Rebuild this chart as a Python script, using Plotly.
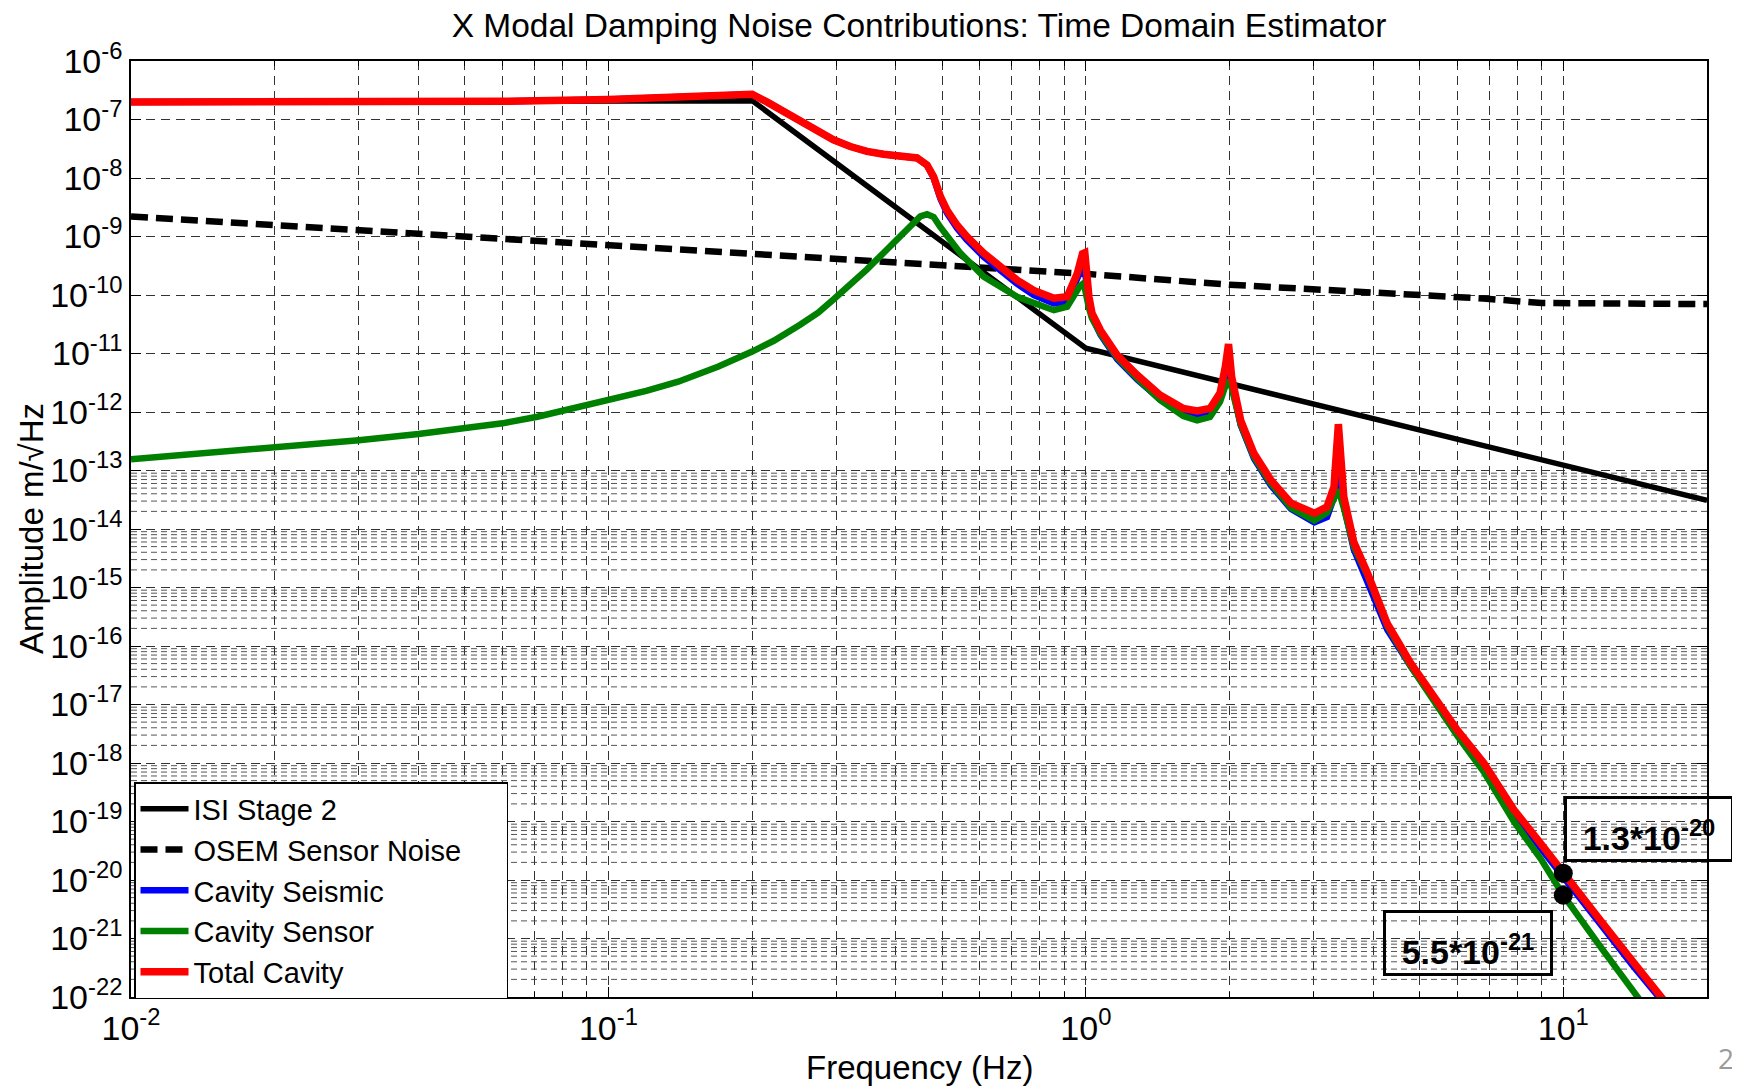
import plotly.graph_objects as go

# ---------------- data ----------------
isi_freq = [0.01, 0.2, 1.0, 20.0]
isi_amp = [2.0e-7, 2.1e-7, 1.23e-11, 3.1e-14]

osem_freq = [0.01, 0.02, 0.03, 0.04, 0.06, 0.1, 0.156, 0.2, 0.3, 0.37, 0.6, 1.0,
             2.0, 3.8, 6.8, 9.0, 20.0]
osem_amp = [2.2e-9, 1.57e-9, 1.26e-9, 1.1e-9, 9.3e-10, 6.9e-10, 5.5e-10, 5.0e-10,
            4.1e-10, 3.7e-10, 3.0e-10, 2.3e-10, 1.5e-10, 1.15e-10, 8.7e-11,
            7.3e-11, 7.0e-11]

seis_freq = [0.01, 0.03, 0.06, 0.1, 0.15, 0.2, 0.2147, 0.2327, 0.2523, 0.2735, 0.296,
             0.321, 0.348, 0.377, 0.409, 0.443, 0.465, 0.48, 0.496, 0.512, 0.537,
             0.563, 0.611, 0.662, 0.718, 0.778, 0.817, 0.857, 0.914, 0.959, 0.99,
             1.015, 1.03, 1.073, 1.163, 1.28, 1.43, 1.6, 1.71, 1.82, 1.91, 1.96,
             1.99, 2.02, 2.11, 2.25, 2.44, 2.69, 3.01, 3.2, 3.31, 3.38, 3.47, 3.64,
             3.89, 4.28, 4.79, 5.36, 6.0, 6.82, 7.88, 8.97, 10.0, 12.0, 14.0, 17.0]
seis_amp = [2.0e-7, 2.0e-7, 2.05e-7, 2.2e-7, 2.45e-7, 2.7e-7, 2.0e-7, 1.36e-7, 9.2e-8,
            6.3e-8, 4.5e-8, 3.45e-8, 2.85e-8, 2.55e-8, 2.38e-8, 2.2e-8, 1.65e-8,
            1.0e-8, 4.4e-9, 2.5e-9, 1.4e-9, 8.8e-10, 4.5e-10, 2.6e-10, 1.55e-10,
            1.0e-10, 8.3e-11, 7.2e-11, 7.6e-11, 1.8e-10, 3.5e-10, 8.0e-11, 4.2e-11,
            2.1e-11, 8.0e-12, 3.6e-12, 1.65e-12, 9.5e-13, 8.5e-13, 9.5e-13, 1.7e-12,
            3.5e-12, 5.2e-12, 3.0e-12, 6.0e-13, 1.6e-13, 5.6e-14, 2.2e-14, 1.3e-14,
            1.6e-14, 3.5e-14, 9.0e-14, 2.5e-14, 4.5e-15, 1.2e-15, 1.9e-16, 4.5e-17,
            1.25e-17, 3.3e-18, 8.6e-19, 1.35e-19, 3.5e-20, 1.1e-20, 1.7e-21, 3.4e-22,
            5.0e-23]

sens_freq = [0.01, 0.02, 0.03, 0.04, 0.06, 0.071, 0.1, 0.12, 0.14, 0.17, 0.2, 0.222,
             0.252, 0.275, 0.296, 0.32, 0.348, 0.38, 0.409, 0.43, 0.45, 0.465, 0.48,
             0.495, 0.546, 0.611, 0.718, 0.857, 0.914, 0.97, 0.99, 1.015, 1.03, 1.073,
             1.163, 1.28, 1.43, 1.6, 1.71, 1.82, 1.91, 1.96, 1.99, 2.02, 2.11, 2.25,
             2.44, 2.69, 3.01, 3.2, 3.31, 3.38, 3.47, 3.64, 3.89, 4.28, 4.79, 5.36,
             6.0, 6.82, 7.88, 8.97, 10.0, 12.0, 14.4, 17.0]
sens_amp = [1.55e-13, 2.4e-13, 3.3e-13, 4.2e-13, 6.4e-13, 8.3e-13, 1.6e-12, 2.3e-12,
            3.3e-12, 6.0e-12, 1.08e-11, 1.65e-11, 3.1e-11, 5.0e-11, 8.4e-11, 1.45e-10,
            2.75e-10, 5.6e-10, 1.05e-9, 1.6e-9, 2.2e-9, 2.4e-9, 2.15e-9, 1.47e-9,
            5.2e-10, 2.06e-10, 9.3e-11, 5.5e-11, 6.3e-11, 1.4e-10, 1.6e-10, 6.0e-11,
            4.0e-11, 2.2e-11, 8.5e-12, 3.8e-12, 1.6e-12, 8.5e-13, 7.2e-13, 8.2e-13,
            1.5e-12, 2.8e-12, 3.5e-12, 2.6e-12, 6.2e-13, 1.7e-13, 6.0e-14, 2.3e-14,
            1.4e-14, 1.9e-14, 3.6e-14, 4.7e-14, 2.3e-14, 5.0e-15, 1.6e-15, 2.2e-16,
            4.5e-17, 1.15e-17, 2.9e-18, 7.0e-19, 1.0e-19, 2.3e-20, 5.5e-21, 7.0e-22,
            1.0e-22, 1.5e-23]

total_freq = [0.01, 0.03, 0.06, 0.1, 0.15, 0.2, 0.2147, 0.2327, 0.2523, 0.2735, 0.296,
              0.321, 0.348, 0.377, 0.409, 0.443, 0.465, 0.48, 0.496, 0.512, 0.537,
              0.563, 0.611, 0.662, 0.718, 0.778, 0.817, 0.857, 0.914, 0.959, 0.984,
              0.995, 1.015, 1.03, 1.073, 1.163, 1.28, 1.43, 1.6, 1.71, 1.82, 1.91,
              1.96, 1.99, 2.02, 2.11, 2.25, 2.44, 2.69, 3.01, 3.2, 3.31, 3.38, 3.47,
              3.64, 3.89, 4.28, 4.79, 5.36, 6.0, 6.82, 7.88, 8.97, 10.0, 12.0, 14.0,
              17.0]
total_amp = [2.0e-7, 2.0e-7, 2.05e-7, 2.2e-7, 2.45e-7, 2.7e-7, 2.0e-7, 1.36e-7, 9.2e-8,
             6.3e-8, 4.5e-8, 3.45e-8, 2.85e-8, 2.55e-8, 2.38e-8, 2.2e-8, 1.67e-8,
             1.05e-8, 4.8e-9, 2.8e-9, 1.57e-9, 1.0e-9, 5.2e-10, 3.05e-10, 1.8e-10,
             1.2e-10, 1.0e-10, 8.8e-11, 9.3e-11, 2.3e-10, 5.1e-10, 5.3e-10, 9.3e-11,
             4.9e-11, 2.5e-11, 9.4e-12, 4.3e-12, 1.95e-12, 1.15e-12, 1.04e-12,
             1.15e-12, 2.1e-12, 6.0e-12, 1.45e-11, 4.0e-12, 7.2e-13, 1.95e-13, 6.9e-14,
             2.76e-14, 1.86e-14, 2.4e-14, 5.3e-14, 6.2e-13, 3.5e-14, 6.0e-15, 1.75e-15,
             2.4e-16, 5.1e-17, 1.36e-17, 3.66e-18, 9.9e-19, 1.58e-19, 4.2e-20, 1.3e-20,
             1.97e-21, 4.0e-22, 5.5e-23]

mark_freq = [10.0, 10.0]
mark_amp = [1.3e-20, 5.5e-21]
mark_labels = ["1.3*10<sup>-20</sup>", "5.5*10<sup>-21</sup>"]

series_names = ["ISI Stage 2", "OSEM Sensor Noise", "Cavity Seismic", "Cavity Sensor",
                "Total Cavity"]

x_tick_exps = [-2, -1, 0, 1]
y_tick_exps = list(range(-22, -5))
y_minor_exps = list(range(-22, -13))   # decades showing minor grid in the reference

# ---------------- figure ----------------
FONT = "Liberation Sans, Arial, Helvetica, sans-serif"
OFF = 8                      # page body margin of the html page
W, H = 1740 - OFF, 1088 - OFF
ML, MR, MT, MB = 131 - OFF, 33, 61 - OFF, 91
PW, PH = 1576.0, 936.0       # plot area size in px
NBSP = "\u00a0"

fig = go.Figure()
fig.add_trace(go.Scatter(x=isi_freq, y=isi_amp, mode="lines", name=series_names[0],
                         line=dict(color="black", width=5.5)))
fig.add_trace(go.Scatter(x=osem_freq, y=osem_amp, mode="lines",
                         name=series_names[1] + NBSP * 5,   # widen legend box like reference
                         line=dict(color="black", width=6.5, dash="17px,8px")))
fig.add_trace(go.Scatter(x=seis_freq, y=seis_amp, mode="lines", name=series_names[2],
                         line=dict(color="#0000ff", width=6.5)))
fig.add_trace(go.Scatter(x=sens_freq, y=sens_amp, mode="lines", name=series_names[3],
                         line=dict(color="#008000", width=6.5)))
fig.add_trace(go.Scatter(x=total_freq, y=total_amp, mode="lines", name=series_names[4],
                         line=dict(color="#ff0000", width=7.5)))
fig.add_trace(go.Scatter(x=mark_freq, y=mark_amp, mode="markers", showlegend=False,
                         marker=dict(color="black", size=19), cliponaxis=False))

# minor y gridlines (only present in the lower decades of the reference)
shapes = []
for e in y_minor_exps:
    for m in range(2, 10):
        v = m * 10.0 ** e
        shapes.append(dict(type="line", xref="paper", x0=0, x1=1, yref="y", y0=v, y1=v,
                           layer="below", line=dict(color="#555555", width=1, dash="6px,4px")))

x_minor = [m * 10.0 ** e for e in range(-2, 2) for m in range(2, 10) if m * 10.0 ** e <= 20]

grid_dash = "9px,6px"
fig.update_xaxes(
    type="log", range=[-2, 1.30103],
    tickmode="array",
    tickvals=[10.0 ** e for e in x_tick_exps],
    ticktext=["10<sup>%d</sup>" % e for e in x_tick_exps],
    tickfont=dict(family=FONT, size=34, color="black"),
    ticks="inside", ticklen=10, tickcolor="black", tickwidth=1,
    showline=True, linecolor="black", linewidth=1.5, mirror="allticks",
    showgrid=True, gridcolor="#333333", gridwidth=1, griddash=grid_dash,
    minor=dict(tickmode="array", tickvals=x_minor, ticks="inside", ticklen=5,
               tickcolor="black", showgrid=True, gridcolor="#333333",
               gridwidth=1, griddash=grid_dash),
    zeroline=False,
)
fig.update_yaxes(
    type="log", range=[-22, -6],
    tickmode="array",
    tickvals=[10.0 ** e for e in y_tick_exps],
    ticktext=["10<sup>%d</sup>" % e for e in y_tick_exps],
    tickfont=dict(family=FONT, size=34, color="black"),
    ticks="inside", ticklen=10, tickcolor="black", tickwidth=1,
    showline=True, linecolor="black", linewidth=1.5, mirror="allticks",
    showgrid=True, gridcolor="#333333", gridwidth=1, griddash=grid_dash,
    zeroline=False,
)

annotations = [
    # axis titles
    dict(xref="paper", yref="paper", x=(31 - 131) / PW, y=0.5, xanchor="center",
         yanchor="middle", textangle=-90, text="Amplitude m/√Hz", showarrow=False,
         font=dict(family=FONT, size=33, color="black")),
    dict(xref="paper", yref="paper", x=0.5, y=(997 - 1067) / PH, xanchor="center",
         yanchor="middle", text="Frequency (Hz)", showarrow=False,
         font=dict(family=FONT, size=33, color="black")),
    # value boxes
    dict(xref="paper", yref="paper", x=(1649 - 131) / PW, y=(997 - 829) / PH,
         xanchor="center", yanchor="middle",
         text="<b>%s</b>" % mark_labels[0], showarrow=False, width=160, height=56,
         font=dict(family=FONT, size=34, color="black"), valign="bottom",
         bordercolor="black", borderwidth=3, borderpad=2, bgcolor="rgba(255,255,255,0)"),
    dict(xref="paper", yref="paper", x=(1468 - 131) / PW, y=(997 - 943) / PH,
         xanchor="center", yanchor="middle",
         text="<b>%s</b>" % mark_labels[1], showarrow=False, width=160, height=56,
         font=dict(family=FONT, size=34, color="black"), valign="bottom",
         bordercolor="black", borderwidth=3, borderpad=2, bgcolor="rgba(255,255,255,0)"),
    # page number
    dict(xref="paper", yref="paper", x=(1726 - 131) / PW, y=(997 - 1058) / PH,
         xanchor="center", yanchor="middle", text="2", showarrow=False,
         font=dict(family="Open Sans, sans-serif", size=28, color="#9a9a9a")),
]

fig.update_layout(
    width=W, height=H,
    margin=dict(l=ML, r=MR, t=MT, b=MB),
    paper_bgcolor="white", plot_bgcolor="white",
    font=dict(family=FONT, color="black"),
    title=dict(text="X Modal Damping Noise Contributions: Time Domain Estimator",
               x=0.5, xref="paper", xanchor="center", y=1 - (25 - OFF) / H,
               yanchor="middle", font=dict(family=FONT, size=33.5, color="black")),
    legend=dict(x=(134 - 131) / PW, y=(997 - 782) / PH, xanchor="left", yanchor="top",
                bgcolor="white", bordercolor="black", borderwidth=1.5,
                font=dict(family=FONT, size=29, color="black"),
                itemwidth=48, tracegroupgap=0),
    shapes=shapes,
    annotations=annotations,
    showlegend=True,
)

fig.write_html("out.html")
